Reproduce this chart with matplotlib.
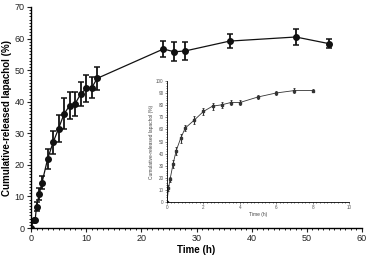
import matplotlib.pyplot as plt
from matplotlib.ticker import MultipleLocator

plt.rcParams['font.family'] = ['Liberation Sans', 'DejaVu Sans']

# main curve: release over time (h)
t_main = [0, 0.5, 0.75, 1, 1.5, 2, 3, 4, 5, 6, 7, 8, 9, 10, 11, 12, 24, 26, 28, 36, 48, 54]
rel_main = [0, 2.5, 2.5, 6.8, 10.8, 14.4, 21.8, 27.1, 31.5, 36.2, 38.7, 39.4, 42.4, 44.2, 44.4, 47.4,
            56.7, 55.8, 56.1, 59.2, 60.5, 58.4]
err_main = [0.3, 0.5, 0.5, 1.5, 1.8, 2.2, 3.2, 3.6, 4.2, 5.0, 4.3, 3.8, 3.9, 4.3, 3.3, 3.6,
            2.5, 3.0, 2.8, 2.3, 2.4, 1.5]

# inset curve
t_in = [0, 0.08, 0.17, 0.33, 0.5, 0.75, 1, 1.5, 2, 2.5, 3, 3.5, 4, 5, 6, 7, 8]
rel_in = [0, 11.2, 18.9, 31.2, 42.2, 52.6, 61.1, 67.7, 74.8, 79.2, 80.3, 82.2, 82.2, 86.8, 90.1, 92.1, 92.1]
err_in = [0.5, 2.5, 2.0, 3.5, 3.5, 3.5, 2.5, 3.0, 3.0, 3.0, 2.5, 2.0, 2.0, 1.5, 2.0, 2.0, 1.5]

fig = plt.figure(figsize=(3.73, 2.58), dpi=100)
ax = fig.add_axes([31 / 373, 30 / 258, 331 / 373, 221 / 258])
ax.errorbar(t_main, rel_main, yerr=err_main, color='#111111', lw=0.9, marker='o', ms=4,
            capsize=2.5, elinewidth=1.3, capthick=1.1)
ax.set_xlim(0, 60)
ax.set_ylim(0, 70)
ax.xaxis.set_major_locator(MultipleLocator(10))
ax.xaxis.set_minor_locator(MultipleLocator(1))
ax.yaxis.set_major_locator(MultipleLocator(10))
ax.yaxis.set_minor_locator(MultipleLocator(1))
for s in ['top', 'right']:
    ax.spines[s].set_visible(False)
for s in ['left', 'bottom']:
    ax.spines[s].set_linewidth(1.0)
ax.tick_params(which='major', length=3, width=0.8, labelsize=6.5, pad=1.5, colors='#222222')
ax.tick_params(which='minor', length=1.5, width=0.6)
ax.set_xlabel('Time (h)', fontsize=7, fontweight='bold', labelpad=1)
ax.set_ylabel('Cumulative-released lapachol (%)', fontsize=7, fontweight='bold', labelpad=2)

ins = fig.add_axes([167 / 373, 56 / 258, 182 / 373, 121 / 258])
ins.errorbar(t_in, rel_in, yerr=err_in, color='#333333', lw=0.6, marker='s', ms=1.6,
             capsize=1.0, elinewidth=0.8, capthick=0.6)
ins.set_xlim(0, 10)
ins.set_ylim(0, 100)
ins.xaxis.set_major_locator(MultipleLocator(2))
ins.xaxis.set_minor_locator(MultipleLocator(0.2))
ins.yaxis.set_major_locator(MultipleLocator(10))
ins.yaxis.set_minor_locator(MultipleLocator(2))
for s in ['top', 'right']:
    ins.spines[s].set_visible(False)
for s in ['left', 'bottom']:
    ins.spines[s].set_linewidth(0.6)
ins.tick_params(which='major', length=1.5, width=0.5, labelsize=3.3, pad=1, colors='#555555')
ins.tick_params(which='minor', length=0.8, width=0.4)
ins.set_xlabel('Time (h)', fontsize=3.5, labelpad=1, color='#444444')
ins.set_ylabel('Cumulative-released lapachol (%)', fontsize=3.5, labelpad=1.5, color='#444444')

fig.savefig('out.png', dpi=100)
